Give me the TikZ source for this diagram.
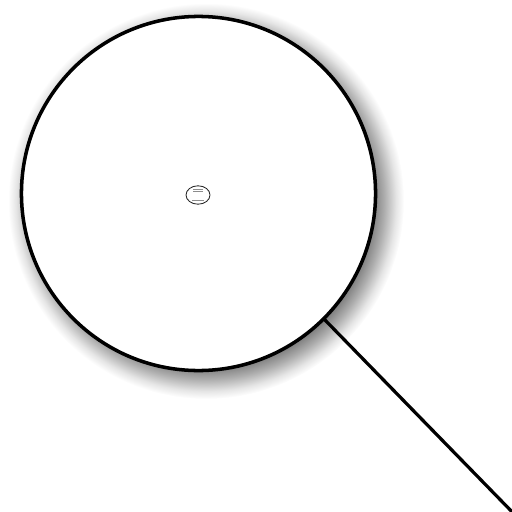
\documentclass[tikz,border=0pt]{standalone}
\usepackage{tikz}
\usetikzlibrary{positioning, calc, shapes.geometric}
\pgfdeclareradialshading{halo}{\pgfpoint{0bp}{0bp}}{color(0bp)=(black!60); color(20.5bp)=(black!58); color(22.5bp)=(black!32); color(24bp)=(black!10); color(25bp)=(white); color(50bp)=(white)}
\tikzset{
	lens/.style   ={circle, draw=black, line width=2.5pt, fill=white, minimum size=8.85cm, inner sep=0pt},
	target/.style ={ellipse, draw=black!85, line width=0.6pt, fill=white, minimum width=0.6cm, minimum height=0.46cm, inner sep=0pt},
	handle/.style ={line width=2.3pt, line cap=round},
	scrib/.style  ={black!45, line width=0.6pt},
}
\begin{document}
\begin{tikzpicture}[x=0.025cm, y=-0.025cm]
	\useasboundingbox (0,0) rectangle (512,512);
	% soft shadow behind the lens
	\shade[shading=halo] (206,201) circle (4.95cm);
	\node[lens] (lens) at (198.5,193.5) {};
	\node[target] (tgt) at (198,195) {};
	% unreadable lines of text inside the ellipse
	\draw[scrib] ($(tgt.center)+(-5,-6)$) -- ++(10,0);
	\draw[scrib] ($(tgt.center)+(-5,-3.5)$) -- ++(10,0);
	\draw[scrib] ($(tgt.center)+(-6,5)$) -- ++(12,0);
	\coordinate (far) at (520,520);
	\draw[handle] (lens.south east) -- (far);
\end{tikzpicture}
\end{document}
